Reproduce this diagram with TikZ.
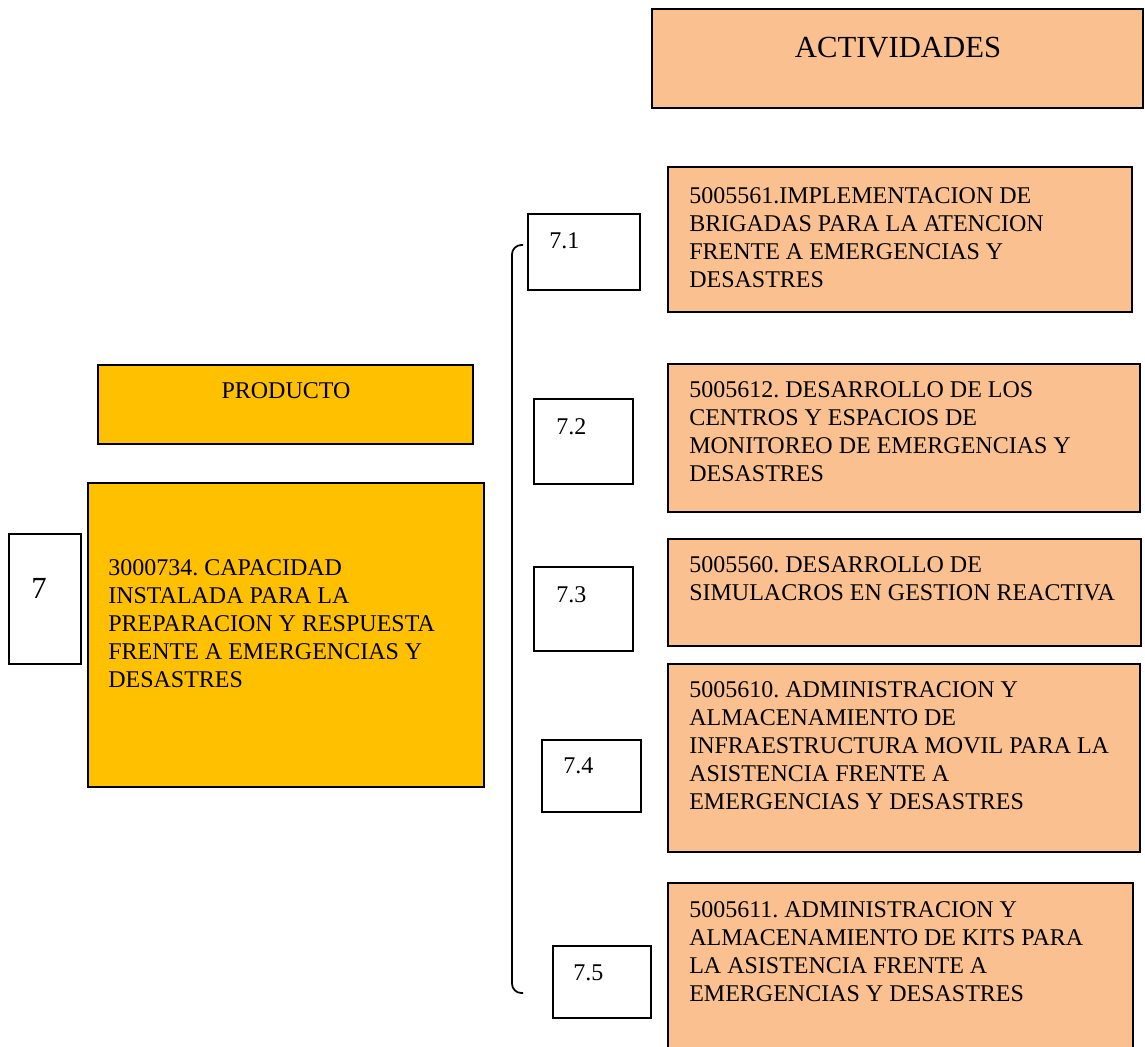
\documentclass[tikz,border=0pt]{standalone}
\usepackage{fontspec}
\setmainfont{Liberation Serif}
\usepackage[dvipsnames]{xcolor}
\definecolor{actpeach}{HTML}{FAC090}
\definecolor{prodgold}{HTML}{FFC000}
\frenchspacing
\begin{document}
\begin{tikzpicture}[x=0.75pt,y=0.75pt,yscale=-1,xscale=1,
  box/.style={line width=1.3},
  actbox/.style={box, fill=actpeach},
  prodbox/.style={box, fill=prodgold},
  txt/.style={anchor=north west, inner sep=0.75pt, align=left, font=\fontsize{18}{21}\selectfont},
  numtxt/.style={anchor=base west, inner sep=0.75pt, font=\fontsize{18}{21}\selectfont},
  bigtxt/.style={inner sep=0.75pt, font=\fontsize{23}{27}\selectfont}]
\useasboundingbox (0,0) rectangle (1145,1046);

%Shape: Rectangle [id:actividades]
\draw  [actbox]  (652,9) -- (1143,9) -- (1143,108) -- (652,108) -- cycle ;
%Shape: Rectangle [id:act1]
\draw  [actbox]  (668,167) -- (1132,167) -- (1132,312) -- (668,312) -- cycle ;
%Shape: Rectangle [id:act2]
\draw  [actbox]  (668,364) -- (1140,364) -- (1140,512) -- (668,512) -- cycle ;
%Shape: Rectangle [id:act3]
\draw  [actbox]  (668,539) -- (1141,539) -- (1141,646) -- (668,646) -- cycle ;
%Shape: Rectangle [id:act4]
\draw  [actbox]  (668,664) -- (1140,664) -- (1140,852) -- (668,852) -- cycle ;
%Shape: Rectangle [id:act5]
\draw  [actbox]  (668,883) -- (1133,883) -- (1133,1060) -- (668,1060) -- cycle ;

%Shape: Rectangle [id:producto]
\draw  [prodbox]  (98,365) -- (473,365) -- (473,444) -- (98,444) -- cycle ;
%Shape: Rectangle [id:prod7]
\draw  [prodbox]  (88,483) -- (484,483) -- (484,787) -- (88,787) -- cycle ;
%Shape: Rectangle [id:num7]
\draw  [box]  (9,534) -- (81,534) -- (81,664) -- (9,664) -- cycle ;

%Shape: Rectangle [id:num71]
\draw  [box]  (528,214) -- (640,214) -- (640,290) -- (528,290) -- cycle ;
%Shape: Rectangle [id:num72]
\draw  [box]  (534,399) -- (633,399) -- (633,484) -- (534,484) -- cycle ;
%Shape: Rectangle [id:num73]
\draw  [box]  (534,567) -- (633,567) -- (633,651) -- (534,651) -- cycle ;
%Shape: Rectangle [id:num74]
\draw  [box]  (542,740) -- (641,740) -- (641,812) -- (542,812) -- cycle ;
%Shape: Rectangle [id:num75]
\draw  [box]  (553,946) -- (651,946) -- (651,1018) -- (553,1018) -- cycle ;

%Bracket
\coordinate (brtop) at (523,245);
\coordinate (brbot) at (523,993);
\draw [box, rounded corners=7pt]  (brtop) -- (brtop -| 512,0) -- (brbot -| 512,0) -- (brbot) ;

% Text Node
\draw (898,57) node (tact) [bigtxt, anchor=base] {ACTIVIDADES};
% Text Node
\draw (688,186) node (ta1) [txt] {5005561.IMPLEMENTACION DE\\BRIGADAS PARA LA ATENCION\\FRENTE A EMERGENCIAS Y\\DESASTRES};
% Text Node
\draw (688,380) node (ta2) [txt] {5005612. DESARROLLO DE LOS\\CENTROS Y ESPACIOS DE\\MONITOREO DE EMERGENCIAS Y\\DESASTRES};
% Text Node
\draw (688,555) node (ta3) [txt] {5005560. DESARROLLO DE\\SIMULACROS EN GESTION REACTIVA};
% Text Node
\draw (688,680) node (ta4) [txt] {5005610. ADMINISTRACION Y\\ALMACENAMIENTO DE\\INFRAESTRUCTURA MOVIL PARA LA\\ASISTENCIA FRENTE A\\EMERGENCIAS Y DESASTRES};
% Text Node
\draw (688,900) node (ta5) [txt] {5005611. ADMINISTRACION Y\\ALMACENAMIENTO DE KITS PARA\\LA ASISTENCIA FRENTE A\\EMERGENCIAS Y DESASTRES};

% Text Node
\draw (286,398) node (tprod) [numtxt, anchor=base] {PRODUCTO};
% Text Node
\draw (107,558) node (tp7) [txt] {3000734. CAPACIDAD\\INSTALADA PARA LA\\PREPARACION Y RESPUESTA\\FRENTE A EMERGENCIAS Y\\DESASTRES};
% Text Node
\draw (30,598) node (t7) [bigtxt, anchor=base west] {7};

% Text Node
\draw (548,248) node (t71) [numtxt] {7.1};
% Text Node
\draw (555,434) node (t72) [numtxt] {7.2};
% Text Node
\draw (555,602) node (t73) [numtxt] {7.3};
% Text Node
\draw (562,773) node (t74) [numtxt] {7.4};
% Text Node
\draw (572,980) node (t75) [numtxt] {7.5};
\end{tikzpicture}
\end{document}
